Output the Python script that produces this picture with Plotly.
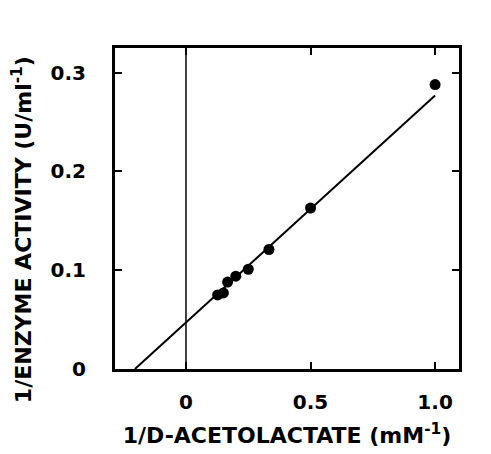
import plotly.graph_objects as go

# Data
inv_substrate = [0.127, 0.15, 0.167, 0.2, 0.25, 0.333, 0.5, 1.0]
inv_activity = [0.075, 0.077, 0.088, 0.094, 0.101, 0.121, 0.163, 0.288]

fit_x = [-0.205, 1.0]
fit_y = [0.0, 0.277]

x_tickvals = [0, 0.5, 1.0]
x_ticktext = ["0", "0.5", "1.0"]
y_tickvals = [0, 0.1, 0.2, 0.3]
y_ticktext = ["0", "0.1", "0.2", "0.3"]

x_title = "1/D-ACETOLACTATE (mM<sup>-1</sup>)"
y_title = "1/ENZYME ACTIVITY (U/ml<sup>-1</sup>)"

FONT = "DejaVu Sans"

fig = go.Figure()
fig.add_trace(go.Scatter(x=fit_x, y=fit_y, mode="lines",
                         line=dict(color="black", width=2), showlegend=False))
fig.add_trace(go.Scatter(x=inv_substrate, y=inv_activity, mode="markers",
                         marker=dict(color="black", size=11), showlegend=False))

fig.add_shape(type="line", xref="x", yref="paper", x0=0, x1=0, y0=0, y1=1,
              line=dict(color="black", width=1.5))

tf = dict(size=20, family=FONT, weight="bold", color="black")
title_font = dict(size=22, family=FONT, weight="bold", color="black")

fig.add_annotation(text=y_title, textangle=-90, xref="paper", yref="paper",
                   x=-0.27, y=0.433, xanchor="center", yanchor="middle",
                   showarrow=False, font=title_font)

fig.update_layout(
    width=491, height=454,
    margin=dict(l=115, r=32, t=48, b=85),
    paper_bgcolor="white", plot_bgcolor="white",
    font=dict(family=FONT, color="black"),
    xaxis=dict(range=[-0.285, 1.096], tickvals=x_tickvals, ticktext=x_ticktext,
               ticks="inside", ticklen=7, tickwidth=2, tickcolor="black",
               showline=True, linewidth=3, linecolor="black", mirror="ticks",
               showgrid=False, zeroline=False, automargin=False,
               tickfont=tf,
               ticklabelstandoff=13,
               title=dict(text=x_title, font=title_font, standoff=15)),
    yaxis=dict(range=[0, 0.325], tickvals=y_tickvals, ticktext=y_ticktext,
               ticks="inside", ticklen=7, tickwidth=2, tickcolor="black",
               showline=True, linewidth=3, linecolor="black", mirror="ticks",
               showgrid=False, zeroline=False, automargin=False,
               tickfont=tf,
               ticklabelstandoff=22),
)

fig.write_html("out.html")
